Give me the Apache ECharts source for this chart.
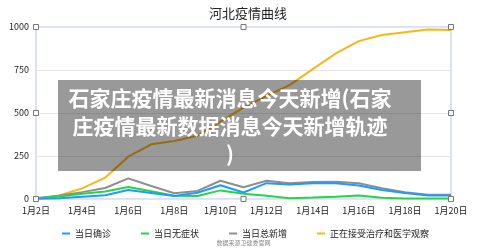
<!DOCTYPE html>
<html>
<head>
<meta charset="utf-8">
<script src="https://cdn.jsdelivr.net/npm/echarts@6/dist/echarts.min.js"></script>
<style>
  html, body { margin: 0; padding: 0; background: #fff; }
  #chart { width: 480px; height: 252px; }
</style>
</head>
<body>
<div id="chart"></div>
<script>
// 日期
var days = ['1月2日', '1月3日', '1月4日', '1月5日', '1月6日', '1月7日', '1月8日', '1月9日', '1月10日',
  '1月11日', '1月12日', '1月13日', '1月14日', '1月15日', '1月16日', '1月17日', '1月18日', '1月19日', '1月20日'];
// 当日确诊
var confirmed = [1, 5, 13, 22, 52, 35, 17, 36, 80, 38, 92, 84, 91, 92, 78, 52, 35, 21, 21];
// 当日无症状
var asymptomatic = [4, 14, 30, 44, 70, 45, 19, 18, 50, 30, 19, 5, 8, 13, 20, 7, 3, 3, 3];
// 当日总新增
var totalNew = [5, 19, 40, 64, 120, 76, 33, 47, 106, 68, 106, 91, 99, 100, 92, 62, 40, 25, 25];
// 正在接受治疗和医学观察
var underTreatment = [1, 20, 62, 124, 246, 318, 337, 368, 450, 531, 600, 662, 755, 846, 918, 953, 970, 986, 982];

var yTicks = [0, 250, 500, 750, 1000];

var myChart = echarts.init(document.getElementById('chart'));

var font = 'Noto Sans CJK SC';
// 绘图区边界 (像素)
var gLeft = 36, gRight = 451, gTop = 27, gBottom = 199;

// 选中框的小方块
var handles = [];
[[gLeft, gTop], [(gLeft + gRight) / 2, gTop], [gRight, gTop], [gRight, (gTop + gBottom) / 2],
 [gRight, gBottom], [(gLeft + gRight) / 2, gBottom], [gLeft, gBottom], [gLeft, (gTop + gBottom) / 2]].forEach(function (p) {
  handles.push({
    type: 'rect',
    shape: { x: p[0] - 2.5, y: p[1] - 2.5, width: 5, height: 5 },
    style: { fill: '#fff', stroke: '#777', lineWidth: 1 },
    z: 20
  });
});

function line(name, data, color) {
  return {
    name: name,
    type: 'line',
    data: data,
    symbol: 'none',
    lineStyle: { width: 2, color: color },
    itemStyle: { color: color }
  };
}

myChart.setOption({
  animation: false,
  textStyle: { fontFamily: font },
  title: {
    text: '河北疫情曲线',
    left: 243,
    textAlign: 'center',
    top: 2,
    textStyle: { fontSize: 13, fontWeight: 'normal', color: '#222' }
  },
  legend: {
    data: ['当日确诊', '当日无症状', '当日总新增', '正在接受治疗和医学观察'],
    left: 57,
    top: 224,
    icon: 'rect',
    itemWidth: 8,
    itemHeight: 2,
    itemGap: 30,
    textStyle: { fontSize: 9, color: '#222' }
  },
  grid: {
    left: gLeft,
    right: 480 - gRight,
    top: gTop,
    bottom: 252 - gBottom,
    show: true,
    borderColor: '#b9c0ee',
    borderWidth: 1
  },
  xAxis: {
    type: 'category',
    data: days,
    boundaryGap: false,
    axisLine: { show: false },
    axisTick: { show: false },
    axisLabel: { interval: 1, fontSize: 9, color: '#222', margin: 7 }
  },
  yAxis: {
    type: 'value',
    min: yTicks[0],
    max: yTicks[yTicks.length - 1],
    interval: 250,
    axisLine: { show: false },
    axisTick: { show: false },
    axisLabel: {
      fontSize: 9, color: '#222', margin: 7,
      formatter: function (v) { return String(v); }
    },
    splitLine: { lineStyle: { color: '#e6e6e6' } }
  },
  series: [
    line('正在接受治疗和医学观察', underTreatment, '#fbb614'),
    line('当日总新增', totalNew, '#8e8e8e'),
    line('当日无症状', asymptomatic, '#26d448'),
    line('当日确诊', confirmed, '#1e9bff')
  ],
  graphic: handles.concat([
    {
      type: 'rect',
      shape: { x: 58, y: 80, width: 363, height: 91 },
      style: { fill: 'rgba(0,0,0,0.4)' },
      z: 30
    },
    {
      type: 'text',
      x: 230,
      y: 84,
      z: 31,
      style: {
        text: '石家庄疫情最新消息今天新增(石家\n庄疫情最新数据消息今天新增轨迹\n)',
        fill: '#fff',
        font: 'bold 21px "Noto Sans CJK SC"',
        textAlign: 'center',
        textVerticalAlign: 'top',
        lineHeight: 28
      }
    },
    {
      type: 'text',
      x: 243.5,
      y: 240,
      style: {
        text: '数据来源卫健委官网',
        fill: '#888',
        font: '6px "Noto Sans CJK SC"',
        textAlign: 'center'
      }
    }
  ])
});
</script>
</body>
</html>
